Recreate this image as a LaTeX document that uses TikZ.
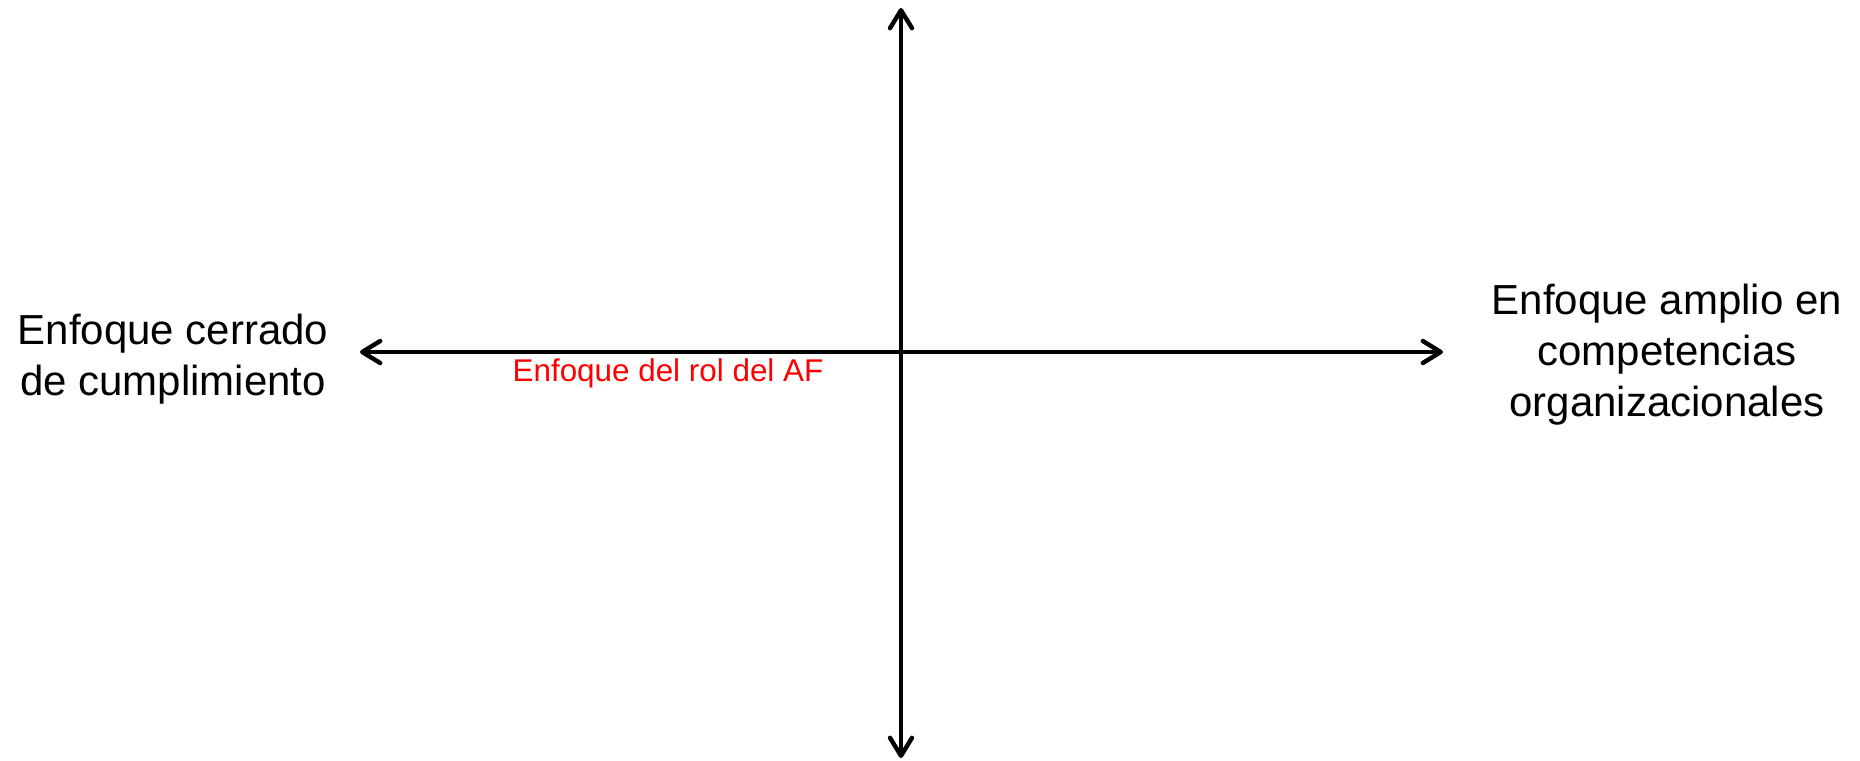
\documentclass[tikz,border=0pt]{standalone}
\usepackage{fontspec}
\setmainfont{Liberation Sans}
\usetikzlibrary{arrows.meta}

\begin{document}
\begin{tikzpicture}[
    x=0.5pt, y=-0.5pt,
    axis/.style={{Straight Barb[length=9pt, width=11pt, line cap=round, line join=round]}-{Straight Barb[length=9pt, width=11pt, line cap=round, line join=round]}, line width=2.2pt, color=black},
    endlabel/.style={align=center, inner sep=0pt, font=\fontsize{21}{25.5}\selectfont},
    rolelabel/.style={inner sep=0pt, text=red, font=\fontsize{15.7}{18}\selectfont}
]

% Canvas
\useasboundingbox (0,0) rectangle (1860,761);

%% AXIS ENDS %%
\coordinate (top) at (901,8);
\coordinate (bottom) at (901,758);
\coordinate (left) at (360,352);
\coordinate (right) at (1443,352);

%% LABELS %%
\node (closed) [endlabel] at (173,359) {Enfoque cerrado\\de cumplimiento};
\node (broad) [endlabel] at (1667,355) {Enfoque amplio en\\competencias\\organizacionales};
\node (role) [rolelabel, anchor=base] at (668,381) {Enfoque del rol del AF};

%% AXES %%
\draw [axis] (bottom) -- (top);
\draw [axis] (left) -- (right);

\end{tikzpicture}
\end{document}
